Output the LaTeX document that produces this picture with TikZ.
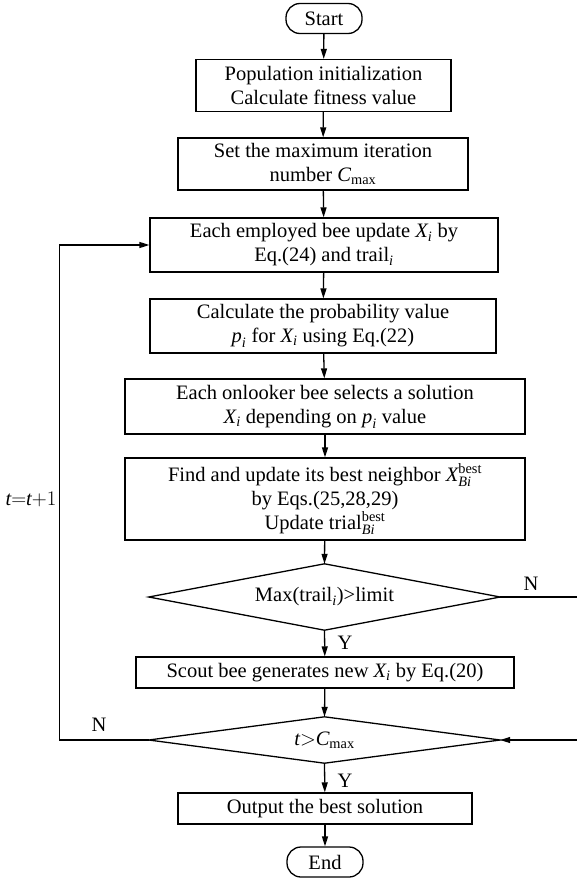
\documentclass[tikz,border=0pt]{standalone}
\usepackage{fontspec}
\usepackage{amsmath}
\setmainfont{Liberation Serif}
\usetikzlibrary{arrows.meta}
\newcommand{\iv}[1]{\text{\itshape #1}}
\newcommand{\Xsub}{$\iv{X}_{\iv{i}}$}
\newcommand{\psub}{$\iv{p}_{\iv{i}}$}
\newcommand{\trailsub}{trail$_{\iv{i}}$}
\newcommand{\Cmax}{$\iv{C}_{\text{max}}$}
\begin{document}
\begin{tikzpicture}[x=1pt,y=-1pt,
  every node/.style={font=\fontsize{20.5}{24}\selectfont, inner sep=0pt},
  box/.style={draw, line width=1.3pt, align=center},
  term/.style={draw, line width=1.3pt, rounded corners=14pt, minimum width=76pt, minimum height=30pt},
  decarea/.style={minimum width=351pt},
  decline/.style={line width=1.3pt, line join=miter},
  arr/.style={line width=1.3pt, -{Triangle[length=10pt,width=6pt]}},
  lbl/.style={font=\fontsize{20.5}{24}\selectfont}
]
\useasboundingbox (0,0) rectangle (577,878);
\clip (0,0) rectangle (577,878);

\node[term] (start) at (324,18.5) {Start};
\node[box, minimum width=255pt, minimum height=52pt] (b1) at (323.5,85.5) {Population initialization\\Calculate fitness value};
\node[box, minimum width=290pt, minimum height=52pt] (b2) at (323,164) {Set the maximum iteration\\number \Cmax};
\node[box, minimum width=348pt, minimum height=54pt] (b3) at (324,245) {Each employed bee update \Xsub{} by\\Eq.(24) and \trailsub};
\node[box, minimum width=346pt, minimum height=54pt] (b4) at (323,326) {Calculate the probability value\\\psub{} for \Xsub{} using Eq.(22)};
\node[box, minimum width=400pt, minimum height=55pt] (b5) at (325,406.5) {Each onlooker bee selects a solution\\\Xsub{} depending on \psub{} value};
\node[box, minimum width=400pt, minimum height=82pt] (b6) at (325,499) {Find and update its best neighbor $\iv{X}^{\text{best}}_{\iv{Bi}}$\\by Eqs.(25,28,29)\\Update trial$^{\text{best}}_{\iv{Bi}}$};
\node[decarea, minimum height=66pt] (d1) at (324.5,597) {Max(\trailsub)>limit};
\draw[decline] (d1.west) -- (d1.north) -- (d1.east) -- (d1.south) -- cycle;
\node[box, minimum width=378pt, minimum height=31pt] (b7) at (325,672.5) {Scout bee generates new \Xsub{} by Eq.(20)};
\node[decarea, minimum height=46pt] (d2) at (324.5,740) {$\iv{t}{>}\iv{C}_{\text{max}}$};
\draw[decline] (d2.west) -- (d2.north) -- (d2.east) -- (d2.south) -- cycle;
\node[box, minimum width=294pt, minimum height=31pt] (b8) at (325,808.5) {Output the best solution};
\node[term] (end) at (325,862) {End};

\draw[arr] (start) -- (b1);
\draw[arr] (b1) -- (b2);
\draw[arr] (b2) -- (b3);
\draw[arr] (b3) -- (b4);
\draw[arr] (b4) -- (b5);
\draw[arr] (b5) -- (b6);
\draw[arr] (b6) -- (d1.north);
\draw[arr] (d1.south) -- (b7);
\draw[arr] (b7) -- (d2.north);
\draw[arr] (d2.south) -- (b8);
\draw[arr] (b8) -- (end);

\draw[arr] (d2.west) -- ++(-89,0) |- (b3.west);
\draw[arr] (d1.east) -- ++(100,0) |- (d2.east);

\node[lbl] (yl1) at (345,643) {Y};
\node[lbl] (yl2) at (345,781) {Y};
\node[lbl] (nr) at (531,584) {N};
\node[lbl] (nl) at (99,725) {N};
\node[lbl] (tt) at (31,499) {$\iv{t}{=}\iv{t}{+}1$};
\end{tikzpicture}
\end{document}
